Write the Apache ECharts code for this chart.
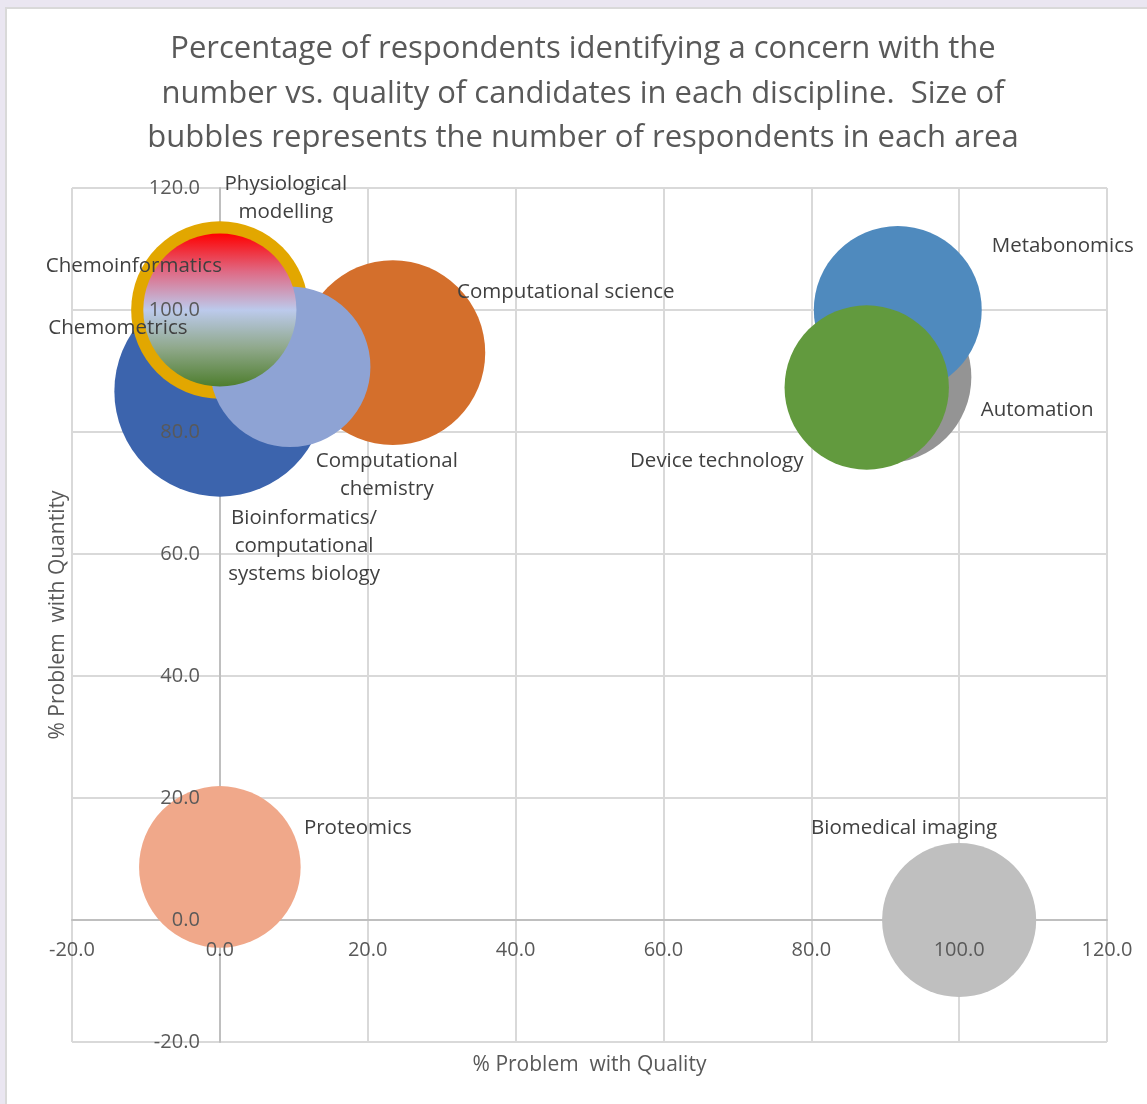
<!DOCTYPE html>
<html>
<head>
<meta charset="utf-8">
<title>Candidate concerns by discipline</title>
<script src="https://cdn.jsdelivr.net/npm/echarts@6/dist/echarts.min.js"></script>
<style>
  html, body { margin: 0; padding: 0; width: 1147px; height: 1104px; overflow: hidden; background: #EAE6F1; }
  #card { position: absolute; left: 5px; top: 7px; width: 1170px; height: 1120px; background: #ffffff;
          border-top: 2px solid #D9D9D9; border-left: 2px solid #D9D9D9; }
  #chart { position: absolute; left: 7px; top: 9px; width: 1152px; height: 1095px; }
</style>
</head>
<body>
<div id="card"></div>
<div id="chart"></div>
<script>
// Disciplines, listed back-to-front in drawing order.
const disciplines = [
  'Computational science',
  'Computational chemistry',
  'Chemometrics',
  'Physiological modelling',
  'Bioinformatics/computational systems biology',
  'Chemoinformatics',
  'Automation',
  'Metabonomics',
  'Device technology',
  'Proteomics',
  'Biomedical imaging'
];
// % of respondents reporting a problem with candidate quality (x)
const qualityPct  = [23.4, 23.4, 0.0, 0.0, 9.5, 0.0, 90.0, 91.7, 87.5, 0.0, 100.0];
// % of respondents reporting a problem with candidate quantity (y)
const quantityPct = [93.0, 93.0, 86.7, 100.0, 90.7, 100.0, 89.0, 100.0, 87.3, 8.7, 0.0];
// Number of respondents in each area (bubble area)
const respondents = [9.0, 11.5, 15.0, 10.6, 8.7, 7.9, 10.0, 9.5, 9.1, 8.8, 8.0];

// Axis ticks
const axisMin = -20, axisMax = 120, axisStep = 20;

const chartTitle = 'Percentage of respondents identifying a concern with the\n' +
                   'number vs. quality of candidates in each discipline.  Size of\n' +
                   'bubbles represents the number of respondents in each area';
const xName = '% Problem  with Quality';
const yName = '% Problem  with Quantity';

// Label text (with line breaks) for long discipline names
const labelText = {
  'Physiological modelling': 'Physiological\nmodelling',
  'Computational chemistry': 'Computational\nchemistry',
  'Bioinformatics/computational systems biology': 'Bioinformatics/\ncomputational\nsystems biology'
};

// Fill colours and label placement (pixel offset from bubble centre)
const looks = {
  'Computational science':   { color: '#D46F2C', offset: [173, -61] },
  'Computational chemistry': { color: '#D46F2C', offset: [-6, 122] },
  'Chemometrics':            { color: '#3C64AD', offset: [-102, -63] },
  'Physiological modelling': { color: '#E2A700', offset: [66, -112] },
  'Bioinformatics/computational systems biology': { color: '#8EA3D4', offset: [14, 179] },
  'Chemoinformatics': {
    color: { type: 'linear', x: 0, y: 0, x2: 0, y2: 1, colorStops: [
      { offset: 0, color: '#FF0000' },
      { offset: 0.25, color: '#DF6A85' },
      { offset: 0.5, color: '#BCCAEC' },
      { offset: 0.75, color: '#8FA88A' },
      { offset: 1, color: '#4E7E2E' }
    ] },
    offset: [-86, -44]
  },
  'Automation':         { color: '#949494', offset: [152, 33] },
  'Metabonomics':       { color: '#4F8ABE', offset: [165, -64] },
  'Device technology':  { color: '#629A3E', offset: [-150, 74] },
  'Proteomics':         { color: '#F0A88A', offset: [138, -39] },
  'Biomedical imaging': { color: '#BFBFBF', offset: [-55, -92] }
};

const FONT = '"Open Sans", Lato, sans-serif';
const TEXT_GREY = '#595959';
const LABEL_GREY = '#404040';
const MAX_DIAMETER = 211;
const maxRespondents = Math.max(...respondents);

// Plot rectangle inside the chart container
const GRID = { left: 65, right: 52, top: 179, bottom: 62 };
const CHART_W = 1152, CHART_H = 1095;
const plotW = CHART_W - GRID.left - GRID.right;
const plotH = CHART_H - GRID.top - GRID.bottom;
// Shift of the tick-label axes from the plot edge onto the zero cross-over
const xLabelShift = -plotH * (0 - axisMin) / (axisMax - axisMin);
const yLabelShift = -plotW * (0 - axisMin) / (axisMax - axisMin);

const points = disciplines.map((name, i) => ({
  name: name,
  value: [qualityPct[i], quantityPct[i], respondents[i]],
  itemStyle: { color: looks[name].color, opacity: 1 }
}));

const valueAxisBase = { type: 'value', min: axisMin, max: axisMax, interval: axisStep };
const nameStyle = { fontFamily: FONT, fontSize: 21, color: TEXT_GREY };
const tickStyle = { fontFamily: FONT, fontSize: 20, color: TEXT_GREY, formatter: v => v.toFixed(1) };

const chart = echarts.init(document.getElementById('chart'), null, { renderer: 'canvas' });
chart.setOption({
  animation: false,
  backgroundColor: 'transparent',
  title: {
    text: chartTitle,
    left: 'center',
    top: 18,
    padding: 0,
    textStyle: { fontFamily: FONT, fontSize: 31, fontWeight: 'normal', color: TEXT_GREY, lineHeight: 44.5, align: 'center' }
  },
  grid: Object.assign({ containLabel: false, outerBoundsMode: 'none' }, GRID),
  xAxis: [
    // gridlines + zero line, drawn beneath the bubbles
    Object.assign({}, valueAxisBase, {
      position: 'bottom',
      axisLine: { show: true, onZero: true, onZeroAxisIndex: 0, lineStyle: { color: '#BFBFBF', width: 2 } },
      axisTick: { show: false },
      axisLabel: { show: false },
      splitLine: { show: true, lineStyle: { color: '#D9D9D9', width: 2 } },
      z: 0
    }),
    // tick labels + title, drawn above the bubbles
    Object.assign({}, valueAxisBase, {
      position: 'bottom',
      offset: xLabelShift,
      axisLine: { show: false, onZero: false },
      axisTick: { show: false },
      splitLine: { show: false },
      axisLabel: Object.assign({ margin: 20 }, tickStyle),
      name: xName,
      nameLocation: 'middle',
      nameGap: 135,
      nameTextStyle: nameStyle,
      z: 10
    })
  ],
  yAxis: [
    Object.assign({}, valueAxisBase, {
      position: 'left',
      axisLine: { show: true, onZero: true, onZeroAxisIndex: 0, lineStyle: { color: '#BFBFBF', width: 2 } },
      axisTick: { show: false },
      axisLabel: { show: false },
      splitLine: { show: true, lineStyle: { color: '#D9D9D9', width: 2 } },
      z: 0
    }),
    Object.assign({}, valueAxisBase, {
      position: 'left',
      offset: yLabelShift,
      axisLine: { show: false, onZero: false },
      axisTick: { show: false },
      splitLine: { show: false },
      axisLabel: Object.assign({ margin: 20 }, tickStyle),
      name: yName,
      nameLocation: 'middle',
      nameGap: 151,
      nameTextStyle: nameStyle,
      z: 10
    })
  ],
  series: [{
    type: 'scatter',
    xAxisIndex: 0,
    yAxisIndex: 0,
    z: 2,
    data: points,
    symbol: 'circle',
    symbolSize: v => MAX_DIAMETER * Math.sqrt(v[2] / maxRespondents),
    emphasis: { disabled: true },
    label: {
      show: true,
      position: 'inside',
      formatter: p => labelText[p.name] || p.name,
      fontFamily: FONT,
      fontSize: 20.5,
      lineHeight: 28,
      color: LABEL_GREY,
      align: 'center',
      verticalAlign: 'middle'
    },
    labelLayout: p => {
      const off = looks[disciplines[p.dataIndex]].offset;
      return { dx: off[0], dy: off[1], hideOverlap: false };
    },
    silent: true
  }]
});
</script>
</body>
</html>
